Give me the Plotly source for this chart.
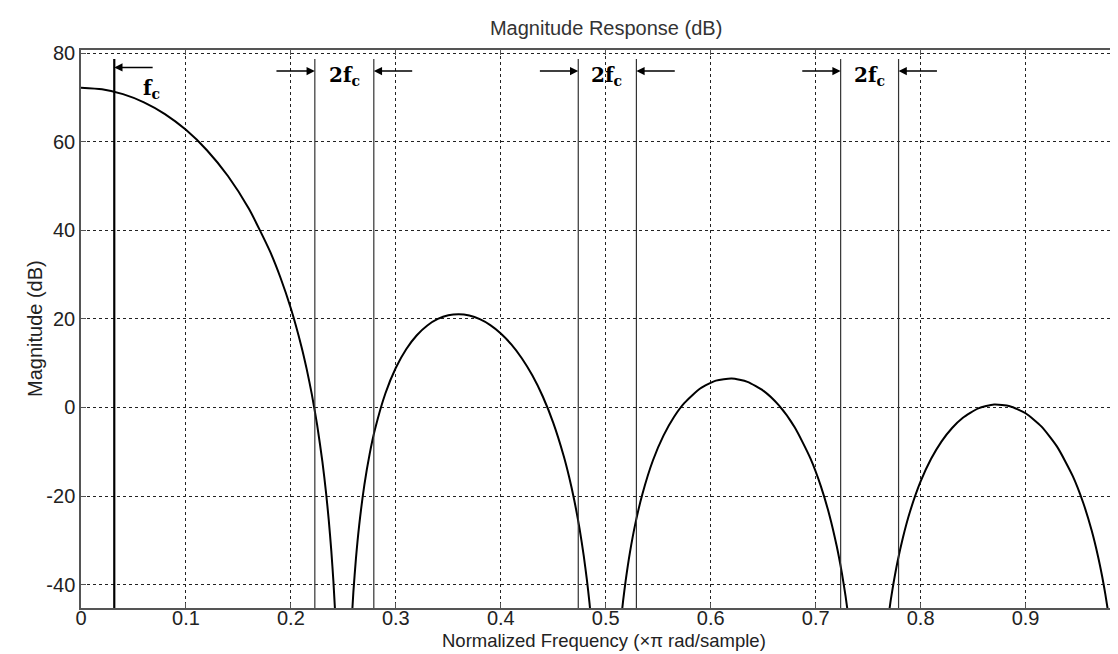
import plotly.graph_objects as go

# magnitude response, one list per lobe
lobe1_f = [0.000, 0.020, 0.040, 0.060, 0.080, 0.100, 0.120, 0.140, 0.160, 0.180,
           0.190, 0.200, 0.210, 0.215, 0.220, 0.225, 0.230, 0.2335, 0.236, 0.2385,
           0.2405, 0.2425]
lobe1_db = [72.25, 71.89, 70.79, 68.94, 66.28, 62.71, 58.11, 52.28, 44.87, 35.30,
            29.36, 22.34, 13.79, 8.71, 2.89, -3.94, -12.22, -19.28, -25.28, -32.40,
            -39.28, -47.73]

lobe2_f = [0.2575, 0.2595, 0.262, 0.265, 0.270, 0.275, 0.280, 0.290, 0.300, 0.310,
           0.320, 0.330, 0.340, 0.350, 0.360, 0.370, 0.380, 0.390, 0.400, 0.410,
           0.420, 0.430, 0.440, 0.450, 0.460, 0.465, 0.470, 0.475, 0.479, 0.482,
           0.4845, 0.4865]
lobe2_db = [-49.71, -41.78, -34.03, -26.73, -17.50, -10.55, -5.06, 3.16, 8.97, 13.22,
            16.32, 18.52, 19.99, 20.81, 21.06, 20.76, 19.95, 18.61, 16.72, 14.25,
            11.13, 7.26, 2.48, -3.47, -11.01, -15.60, -20.96, -27.34, -33.46, -38.89,
            -44.15, -49.01]

lobe3_f = [0.5145, 0.5165, 0.519, 0.523, 0.528, 0.535, 0.545, 0.555, 0.565, 0.575,
           0.590, 0.605, 0.620, 0.635, 0.650, 0.665, 0.680, 0.695, 0.705, 0.713,
           0.720, 0.725, 0.7285, 0.7315]
lobe3_db = [-48.06, -43.74, -39.06, -32.79, -26.46, -19.48, -11.92, -6.36, -2.15, 1.03,
            4.29, 6.06, 6.53, 5.78, 3.80, 0.46, -4.47, -11.50, -17.81, -24.21,
            -31.25, -37.45, -42.63, -47.82]

lobe4_f = [0.769, 0.7715, 0.774, 0.778, 0.783, 0.790, 0.800, 0.810, 0.820, 0.830,
           0.840, 0.855, 0.870, 0.885, 0.900, 0.915, 0.930, 0.945, 0.955, 0.963,
           0.969, 0.973, 0.976, 0.979]
lobe4_db = [-47.76, -43.60, -39.94, -34.85, -29.53, -23.45, -16.72, -11.60, -7.65, -4.63,
            -2.37, -0.20, 0.66, 0.29, -1.31, -4.28, -8.85, -15.52, -21.59, -27.81,
            -33.60, -38.19, -42.15, -46.67]

# marker lines and labels
fc_line = 0.0317
band_lines = [0.2228, 0.2790, 0.4738, 0.5292, 0.7238, 0.7790]
band_labels = [0.2510, 0.5010, 0.7514]
line_top = 78.7

xticks = [0, 0.1, 0.2, 0.3, 0.4, 0.5, 0.6, 0.7, 0.8, 0.9]
xtick_text = ['0', '0.1', '0.2', '0.3', '0.4', '0.5', '0.6', '0.7', '0.8', '0.9']
yticks = [-40, -20, 0, 20, 40, 60, 80]
ytick_text = ['-40', '-20', '0', '20', '40', '60', '80']

fig = go.Figure()

for fx, db in [(lobe1_f, lobe1_db), (lobe2_f, lobe2_db), (lobe3_f, lobe3_db), (lobe4_f, lobe4_db)]:
    fig.add_trace(go.Scatter(x=fx, y=db, mode='lines',
                             line=dict(color='black', width=2, shape='spline', smoothing=0.6),
                             showlegend=False, hoverinfo='skip'))

# fc line (thicker) and the 2fc band edges
fig.add_trace(go.Scatter(x=[fc_line, fc_line], y=[-50, line_top], mode='lines',
                         line=dict(color='black', width=2.2), showlegend=False, hoverinfo='skip'))
for b in band_lines:
    fig.add_trace(go.Scatter(x=[b, b], y=[-50, line_top], mode='lines',
                             line=dict(color='#333333', width=1.2), showlegend=False, hoverinfo='skip'))

arrow = dict(showarrow=True, arrowhead=2, arrowsize=1.1, arrowwidth=1.5, arrowcolor='black',
             xref='x', yref='y', axref='x', ayref='y', text='')
label_font = dict(family='DejaVu Serif', size=20, color='black')

# fc arrow pointing left at the fc line
fig.add_annotation(x=fc_line, y=76.8, ax=fc_line + 0.038, ay=76.8, **arrow)
fig.add_annotation(x=fc_line + 0.035, y=72.0, text='<b>f<sub>c</sub></b>', showarrow=False,
                   xref='x', yref='y', font=label_font)

for i, c in enumerate(band_labels):
    left, right = band_lines[2 * i], band_lines[2 * i + 1]
    fig.add_annotation(x=left, y=76.0, ax=left - 0.038, ay=76.0, **arrow)
    fig.add_annotation(x=right, y=76.0, ax=right + 0.038, ay=76.0, **arrow)
    fig.add_annotation(x=c, y=74.8, text='<b>2f<sub>c</sub></b>', showarrow=False,
                       xref='x', yref='y', font=label_font)

# axis titles placed as paper annotations
fig.add_annotation(text='Normalized Frequency (\u00d7\u03c0 rad/sample)', xref='paper', yref='paper',
                   x=0.5, y=-0.0591, xanchor='center', yanchor='middle', showarrow=False,
                   font=dict(size=18.5, color='#222222'))
fig.add_annotation(text='Magnitude (dB)', xref='paper', yref='paper', textangle=-90,
                   x=-0.044, y=0.5, xanchor='center', yanchor='middle', showarrow=False,
                   font=dict(size=20, color='#222222'))

fig.update_layout(
    width=1118, height=654,
    margin=dict(l=73, r=0, t=42, b=54),
    paper_bgcolor='white', plot_bgcolor='white',
    font=dict(family='Liberation Sans, Arial', size=20, color='#222222'),
    title=dict(text='Magnitude Response (dB)', x=0.535, xanchor='center', y=0.969, yanchor='middle',
               font=dict(size=20, color='#333333')),
)
fig.update_xaxes(
    range=[0, 0.9957], tickvals=xticks, ticktext=xtick_text,
    showline=True, linecolor='#555555', linewidth=1.5, mirror='ticks',
    ticks='inside', ticklen=5, tickcolor='#555555', ticklabelstandoff=-9,
    showgrid=True, gridcolor='#222222', gridwidth=1, griddash='3px,3px',
    zeroline=False,
)
fig.update_yaxes(
    range=[-45.3, 80.75], tickvals=yticks, ticktext=ytick_text,
    showline=True, linecolor='#555555', linewidth=1.5, mirror=False,
    ticks='inside', ticklen=5, tickcolor='#555555',
    showgrid=True, gridcolor='#222222', gridwidth=1, griddash='3px,3px',
    zeroline=False,
)

fig.write_html("out.html")
